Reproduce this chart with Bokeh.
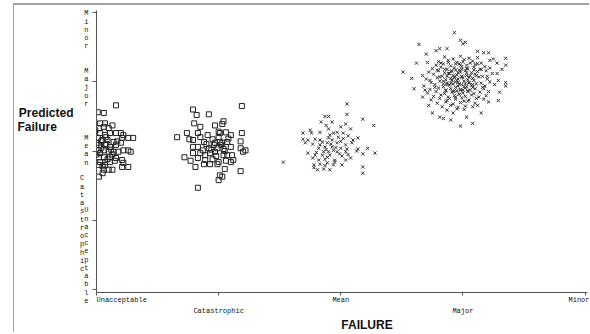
from bokeh.plotting import figure
from bokeh.models import FixedTicker, LinearAxis, Range1d
from bokeh.embed import file_html
from bokeh.resources import INLINE

# ---- data -------------------------------------------------------------
categories = ["Unacceptable", "Catastrophic", "Mean", "Major", "Minor"]
codes = [1, 2, 3, 4, 5]

unacc_x = [1.16, 1.01, 1.06, 1.03, 1.07, 1.02, 1.06, 1.10, 1.13, 1.20, 1.22, 1.03, 1.07, 1.11, 1.16,
           1.21, 1.26, 1.30, 1.01, 1.05, 1.09, 1.14, 1.20, 1.02, 1.07, 1.11, 1.16, 1.22, 1.26, 1.28,
           1.01, 1.06, 1.10, 1.14, 1.18, 1.02, 1.06, 1.11, 1.16, 1.21, 1.03, 1.07, 1.11, 1.22, 1.26,
           1.21, 1.07, 1.10, 1.13, 1.06, 1.05, 1.02, 1.00, 1.04, 1.00, 1.03, 1.08, 1.05, 1.12, 1.09,
           0.99, 1.04, 1.13, 1.08, 1.15, 1.02, 1.17]
unacc_y = [3.66, 3.56, 3.55, 3.40, 3.40, 3.33, 3.35, 3.33, 3.37, 3.26, 3.23, 3.26, 3.23, 3.26, 3.26,
           3.19, 3.19, 3.19, 3.19, 3.16, 3.16, 3.13, 3.12, 3.09, 3.09, 3.06, 3.09, 3.01, 3.01, 2.99,
           3.01, 3.01, 2.99, 2.99, 2.99, 2.91, 2.91, 2.91, 2.90, 2.87, 2.84, 2.84, 2.84, 2.83, 2.77,
           2.77, 2.80, 2.73, 2.73, 2.73, 2.68, 2.63, 3.12, 3.05, 2.95, 2.97, 3.20, 2.78, 3.02, 2.88,
           3.30, 3.14, 2.95, 3.10, 2.86, 2.80, 3.14]

catas_x = [1.79, 1.82, 1.92, 2.19, 1.80, 1.85, 1.97, 2.04, 2.03, 1.66, 1.74, 1.76, 1.79, 1.83, 1.85,
           1.91, 1.95, 2.00, 2.01, 2.06, 2.10, 2.19, 2.18, 1.88, 1.97, 2.03, 2.07, 1.79, 1.83, 1.87,
           1.92, 1.99, 2.04, 2.10, 2.18, 2.22, 2.20, 1.79, 1.85, 1.93, 1.97, 2.04, 2.11, 1.72, 1.77,
           1.83, 1.89, 1.95, 2.00, 2.06, 2.12, 1.81, 1.88, 1.93, 1.99, 2.05, 2.18, 2.01, 2.03, 2.00,
           1.83, 1.89, 1.96, 2.01, 2.07, 2.10, 2.02, 1.94, 2.05, 1.98, 2.08, 1.90, 2.00]
catas_y = [3.60, 3.52, 3.53, 3.65, 3.40, 3.35, 3.37, 3.43, 3.39, 3.20, 3.26, 3.17, 3.16, 3.26, 3.20,
           3.23, 3.17, 3.20, 3.26, 3.27, 3.23, 3.26, 3.14, 3.13, 3.12, 3.12, 3.13, 3.06, 3.06, 3.01,
           3.04, 3.04, 3.03, 3.06, 3.04, 3.01, 2.99, 2.97, 2.97, 2.97, 2.99, 2.94, 2.94, 2.91, 2.86,
           2.90, 2.87, 2.88, 2.84, 2.86, 2.87, 2.77, 2.81, 2.81, 2.81, 2.74, 2.71, 2.65, 2.63, 2.58,
           2.47, 2.94, 3.09, 3.13, 2.94, 2.84, 3.09, 3.02, 3.00, 2.93, 3.18, 3.10, 3.28]

mean_x = [3.05, 2.87, 2.90, 3.05, 3.18, 3.27, 2.84, 2.93, 2.88, 3.04, 3.00, 3.08, 2.69, 2.75, 2.76,
          2.83, 2.90, 2.94, 2.97, 3.02, 3.06, 3.14, 2.69, 2.73, 2.79, 2.83, 2.90, 2.93, 3.00, 3.10,
          2.71, 2.77, 2.83, 2.89, 2.97, 3.04, 3.09, 2.82, 2.87, 2.93, 3.00, 3.05, 3.14, 3.22, 2.90,
          2.97, 3.04, 3.13, 3.28, 2.73, 2.79, 2.85, 2.91, 3.01, 3.08, 3.18, 2.53, 2.77, 2.82, 2.87,
          2.95, 3.04, 2.78, 2.83, 2.89, 2.94, 3.01, 2.81, 2.86, 2.91, 3.18, 3.18, 2.78, 2.89, 2.94,
          2.86, 2.98, 2.91, 2.92, 2.96, 2.88, 2.99, 2.85, 3.02, 2.80, 2.95, 3.06, 2.87]
mean_y = [3.68, 3.50, 3.50, 3.53, 3.46, 3.37, 3.42, 3.42, 3.37, 3.39, 3.35, 3.32, 3.26, 3.30, 3.26,
          3.27, 3.32, 3.26, 3.27, 3.26, 3.22, 3.19, 3.17, 3.16, 3.17, 3.16, 3.19, 3.16, 3.14, 3.16,
          3.12, 3.10, 3.09, 3.12, 3.12, 3.09, 3.12, 3.04, 3.06, 3.06, 3.04, 3.03, 3.03, 3.04, 2.99,
          2.99, 2.99, 3.00, 2.97, 2.97, 2.94, 2.94, 2.94, 2.93, 2.90, 2.96, 2.84, 2.90, 2.87, 2.88,
          2.87, 2.87, 2.80, 2.81, 2.83, 2.80, 2.80, 2.73, 2.74, 2.73, 2.77, 2.68, 2.76, 2.91, 3.01,
          2.99, 3.20, 3.23, 3.10, 3.05, 3.02, 2.96, 3.13, 3.18, 2.98, 2.84, 2.95, 2.79]

major_x = [3.93, 3.64, 3.51, 3.98, 4.02, 4.35, 4.35, 4.35, 4.35, 4.29, 3.98, 4.08, 3.81, 3.84, 3.75,
           3.67, 3.62, 3.71, 3.81, 3.87, 4.12, 4.17, 4.21, 4.22, 4.28, 4.28, 4.29, 3.67, 3.69, 3.72,
           3.92, 4.03, 4.12, 4.21,
           3.85, 3.92, 3.98, 4.05, 4.12,
           3.80, 3.88, 3.95, 4.01, 4.08, 4.15,
           3.78, 3.84, 3.90, 3.97, 4.03, 4.10, 4.18,
           3.75, 3.82, 3.87, 3.93, 3.99, 4.04, 4.09, 4.14, 4.22,
           3.72, 3.80, 3.85, 3.90, 3.94, 3.98, 4.02, 4.07, 4.12, 4.19,
           3.76, 3.83, 3.88, 3.92, 3.95, 3.99, 4.03, 4.06, 4.10, 4.16, 4.24,
           3.70, 3.79, 3.86, 3.90, 3.93, 3.96, 4.00, 4.04, 4.08, 4.13, 4.20,
           3.74, 3.81, 3.87, 3.91, 3.94, 3.97, 4.01, 4.05, 4.09, 4.15, 4.22,
           3.68, 3.77, 3.84, 3.89, 3.92, 3.96, 3.99, 4.03, 4.07, 4.11, 4.18, 4.26,
           3.73, 3.80, 3.86, 3.90, 3.94, 3.98, 4.02, 4.06, 4.10, 4.16,
           3.71, 3.78, 3.85, 3.91, 3.95, 4.00, 4.04, 4.09, 4.14, 4.21,
           3.76, 3.82, 3.88, 3.93, 3.97, 4.02, 4.07, 4.13, 4.19,
           3.74, 3.81, 3.87, 3.94, 3.99, 4.05, 4.11, 4.17,
           3.79, 3.86, 3.92, 3.98, 4.04, 4.10,
           3.83, 3.90, 3.96, 4.02, 4.08,
           3.87, 3.95, 4.01,
           3.89, 3.95, 4.01, 3.93, 3.99, 4.05, 3.87, 3.97, 4.03, 3.91, 4.00, 3.96, 3.84, 4.08, 3.94, 3.98,
           3.82, 3.88, 3.94, 4.00, 4.06, 4.12, 3.79, 3.85, 3.91, 3.97, 4.03, 4.09, 4.15,
           3.81, 3.87, 3.93, 3.99, 4.05, 4.11, 3.84, 3.90, 3.96, 4.02, 4.08, 3.86, 3.92, 3.98, 4.04,
           3.77, 4.17, 3.73, 4.20, 3.89, 4.01,
           3.58, 3.60, 4.30, 4.25, 3.70, 4.15, 3.90, 4.00, 3.78, 4.32]
major_y = [4.71, 4.54, 4.14, 4.60, 4.57, 4.34, 4.24, 3.99, 3.94, 3.73, 3.36, 3.40, 3.49, 3.47, 3.55,
           3.78, 4.27, 4.28, 4.48, 4.48, 4.44, 4.42, 4.42, 4.31, 4.27, 4.12, 4.02, 4.09, 3.88, 3.66,
           3.55, 3.49, 3.66, 3.71,
           4.36, 4.33, 4.37, 4.34, 4.35,
           4.29, 4.31, 4.28, 4.32, 4.30, 4.27,
           4.24, 4.26, 4.23, 4.26, 4.24, 4.25, 4.22,
           4.19, 4.21, 4.18, 4.20, 4.22, 4.19, 4.21, 4.18, 4.20,
           4.14, 4.16, 4.13, 4.15, 4.17, 4.14, 4.16, 4.13, 4.15, 4.16,
           4.11, 4.08, 4.12, 4.09, 4.10, 4.07, 4.13, 4.09, 4.11, 4.08, 4.12,
           4.04, 4.06, 4.03, 4.05, 4.07, 4.04, 4.06, 4.03, 4.05, 4.07, 4.04,
           3.99, 4.01, 3.98, 4.02, 4.00, 3.97, 4.01, 3.99, 4.02, 3.98, 4.00,
           3.94, 3.96, 3.93, 3.95, 3.97, 3.94, 3.96, 3.93, 3.95, 3.97, 3.94, 3.96,
           3.89, 3.91, 3.88, 3.90, 3.92, 3.89, 3.91, 3.88, 3.90, 3.92,
           3.84, 3.86, 3.83, 3.85, 3.87, 3.84, 3.86, 3.83, 3.85, 3.86,
           3.79, 3.81, 3.78, 3.80, 3.82, 3.79, 3.81, 3.78, 3.80,
           3.74, 3.76, 3.73, 3.75, 3.77, 3.74, 3.76, 3.75,
           3.69, 3.71, 3.68, 3.70, 3.72, 3.69,
           3.64, 3.66, 3.63, 3.65, 3.64,
           3.59, 3.61, 3.60,
           4.12, 4.02, 3.93, 3.87, 4.18, 3.98, 3.96, 3.82, 4.09, 4.03, 3.88, 4.13, 4.01, 3.92, 3.78, 4.24,
           4.27, 4.28, 4.26, 4.29, 4.27, 4.26, 4.17, 4.18, 4.16, 4.17, 4.19, 4.17, 4.18,
           4.07, 4.08, 4.06, 4.08, 4.07, 4.09, 3.97, 3.98, 3.99, 3.97, 3.96, 3.87, 3.86, 3.88, 3.87,
           3.92, 3.90, 4.02, 4.08, 3.76, 3.72,
           4.05, 3.90, 3.85, 4.33, 4.40, 3.55, 3.45, 4.55, 4.45, 4.18]

x_title = "FAILURE"
y_title = ["Predicted", "Failure"]

# ---- label helpers ----------------------------------------------------
NB = "\u00a0"

x_labels = {}
for i, (c, n) in enumerate(zip(codes, categories)):
    if i == 0:
        x_labels[c] = NB * len(n) + n          # text starts at the tick
    elif i % 2 == 1:
        x_labels[c] = NB + "\n" + n            # second row
    else:
        x_labels[c] = n

# stacked y labels: centre of each stack relative to its tick (data units)
y_stack_shift = {"Unacceptable": 0.49, "Catastrophic": -0.05, "Mean": 0.01,
                 "Major": -0.08, "Minor": -0.25}
y_label_pos = []
y_label_text = {}
for c, n in zip(codes, categories):
    pos = round(c + y_stack_shift[n], 3)
    y_label_pos.append(pos)
    if n == "Catastrophic":
        txt = "\n".join(ch + NB for ch in n)   # column sits a little further left
    else:
        txt = "\n".join(n)
    y_label_text[pos] = txt
    y_label_text[str(pos)] = txt

# ---- figure -----------------------------------------------------------
p = figure(width=576, height=329, x_range=Range1d(1, 5.02), y_range=Range1d(0.957, 5.03),
           output_backend="svg", toolbar_location=None,
           min_border_left=82, min_border_right=3, min_border_top=5, min_border_bottom=40)
p.styles = {"margin-left": "13px", "margin-top": "3px",
            "border-top": "2px solid #a0a0a0", "border-left": "1px solid #a0a0a0"}
p.outline_line_color = None
p.xgrid.visible = False
p.ygrid.visible = False
p.background_fill_color = "white"
p.border_fill_color = "white"

xa = p.xaxis[0]
xa.ticker = FixedTicker(ticks=codes)
xa.major_label_overrides = x_labels
xa.major_label_text_font = "Liberation Mono"
xa.major_label_text_font_size = "7px"
xa.major_label_text_line_height = 1.4
xa.major_label_text_color = "#111111"
xa.major_label_standoff = 0
xa.major_tick_out = 3
xa.major_tick_in = 0
xa.minor_tick_line_color = None
xa.axis_line_color = "#555555"
xa.major_tick_line_color = "#555555"
xa.axis_label = NB * 15 + x_title
xa.axis_label_text_font = "Liberation Sans"
xa.axis_label_text_font_style = "bold"
xa.axis_label_text_font_size = "12px"
xa.axis_label_text_color = "#111111"
xa.axis_label_standoff = 0

ya = p.yaxis[0]
ya.ticker = FixedTicker(ticks=y_label_pos, minor_ticks=codes)
ya.major_label_overrides = y_label_text
ya.major_label_text_font = "Liberation Mono"
ya.major_label_text_font_size = "7px"
ya.major_label_text_line_height = 1.03
ya.major_label_text_color = "#111111"
ya.major_label_standoff = 4
ya.major_tick_line_color = None
ya.major_tick_out = 0
ya.major_tick_in = 0
ya.minor_tick_out = 4
ya.minor_tick_in = 0
ya.minor_tick_line_color = "#555555"
ya.axis_line_color = "#555555"

# horizontal "Predicted Failure" title as a label-only axis further left
title_pos = 3.45
title_txt = y_title[0] + "\n" + y_title[1] + NB * 5
ta = LinearAxis(ticker=FixedTicker(ticks=[title_pos], minor_ticks=[]),
                major_label_overrides={title_pos: title_txt, str(title_pos): title_txt},
                axis_line_color=None, major_tick_line_color=None, minor_tick_line_color=None,
                major_tick_out=0, major_tick_in=0, minor_tick_out=0, minor_tick_in=0,
                major_label_standoff=4, major_label_text_font="Liberation Sans",
                major_label_text_font_style="bold", major_label_text_font_size="12px",
                major_label_text_line_height=0.95, major_label_text_color="#111111")
p.add_layout(ta, "left")

p.scatter(unacc_x, unacc_y, marker="square", size=5, fill_color=None,
          line_color="#222222", line_width=1)
p.scatter(catas_x, catas_y, marker="square", size=5, fill_color=None,
          line_color="#222222", line_width=1)
p.scatter(mean_x, mean_y, marker="x", size=4.5, line_color="#333333", line_width=1)
p.scatter(major_x, major_y, marker="x", size=4.5, line_color="#333333", line_width=1)

open("out.html", "w").write(file_html(p, INLINE))
